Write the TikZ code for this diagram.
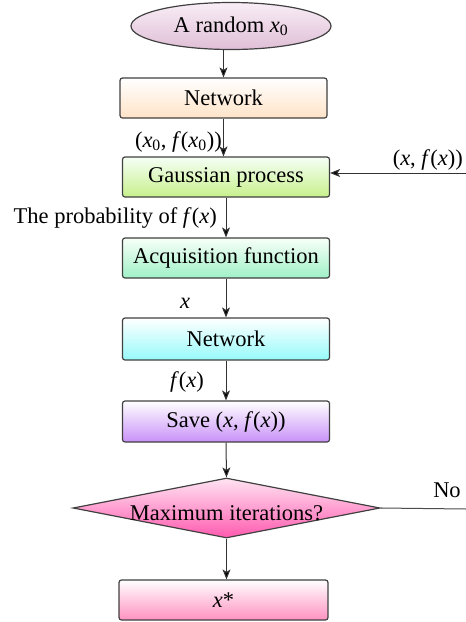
\documentclass[tikz,border=0pt]{standalone}
\usepackage{fontspec}
\setmainfont{Liberation Serif}
\usetikzlibrary{shapes.geometric,arrows.meta}
\newcommand{\vx}{\textit{x}}
\newcommand{\vf}{\textit{f}}
\begin{document}
\begin{tikzpicture}[x=1pt,y=-1pt,
  every node/.style={font=\rmfamily\fontsize{22.5}{26}\selectfont},
  box/.style={draw=black!75,line width=1.2pt,rounded corners=2.5pt,minimum width=207pt,minimum height=40pt,inner sep=0pt},
  conn/.style={draw=black!80,line width=1pt,-{Stealth[length=10pt,width=8pt,inset=2.5pt,fill=black]}},
  line/.style={draw=black!70,line width=1pt},
  lbl/.style={inner sep=0pt}]
\useasboundingbox (0,0) rectangle (466,622);
\node[ellipse,draw=black!75,line width=1.2pt,minimum width=200pt,minimum height=47pt,inner sep=0pt,top color={rgb,255:red,248;green,238;blue,246},bottom color={rgb,255:red,224;green,190;blue,214}] (start) at (231,26) {A random \vx\textsubscript{0}};
\node[box,top color=white,bottom color=orange!22!white] (net1) at (223.5,98) {Network};
\node[box,top color=green!4!white,bottom color={rgb,255:red,200;green,240;blue,140}] (gp) at (226,177) {Gaussian process};
\node[box,top color=green!3!white,bottom color={rgb,255:red,160;green,240;blue,200}] (af) at (226,258) {Acquisition function};
\node[box,minimum height=42pt,top color=white,bottom color={rgb,255:red,150;green,250;blue,250}] (net2) at (226,339) {Network};
\node[box,minimum height=41pt,top color=white,bottom color={rgb,255:red,200;green,145;blue,248}] (save) at (226,421.5) {Save (\vx, \vf(\vx))};
\node[diamond,aspect=5.1,draw=black!75,line width=1.2pt,minimum width=307pt,minimum height=60pt,inner sep=0pt,top color={rgb,255:red,255;green,228;blue,242},bottom color={rgb,255:red,255;green,90;blue,175}] (dec) at (226.5,508) {};
\node[lbl] (dectext) at (226.5,513) {Maximum iterations?};
\node[box,minimum width=209pt,top color=white,bottom color={rgb,255:red,255;green,145;blue,192}] (xs) at (223.5,600) {\vx*};

\coordinate (rin) at (466,173);
\coordinate (rout) at (466,509);

\draw[conn] (net1.north |- start.south) -- (net1.north);
\draw[conn] (net1.south) -- (net1.south |- gp.north);
\draw[conn] (gp.south) -- (af.north);
\draw[conn] (af.south) -- (net2.north);
\draw[conn] (net2.south) -- (save.north);
\draw[conn] (save.south) -- (dec.north);
\draw[conn] (dec.south) -- (dec.south |- xs.north);
\draw[conn] (rin) -- (rin -| gp.east);
\draw[line] (dec.east) -- (rout);

\node[lbl,anchor=east] (l1) at (222,142) {(\vx\textsubscript{0}, \vf(\vx\textsubscript{0}))};
\node[lbl,anchor=east] (l2) at (463,160) {(\vx, \vf(\vx))};
\node[lbl,anchor=east] (l3) at (217,218) {The probability of \vf(\vx)};
\node[lbl] (l4) at (185,303) {\vx};
\node[lbl] (l5) at (187,382) {\vf(\vx)};
\node[lbl] (l6) at (447,490) {No};
\end{tikzpicture}
\end{document}
